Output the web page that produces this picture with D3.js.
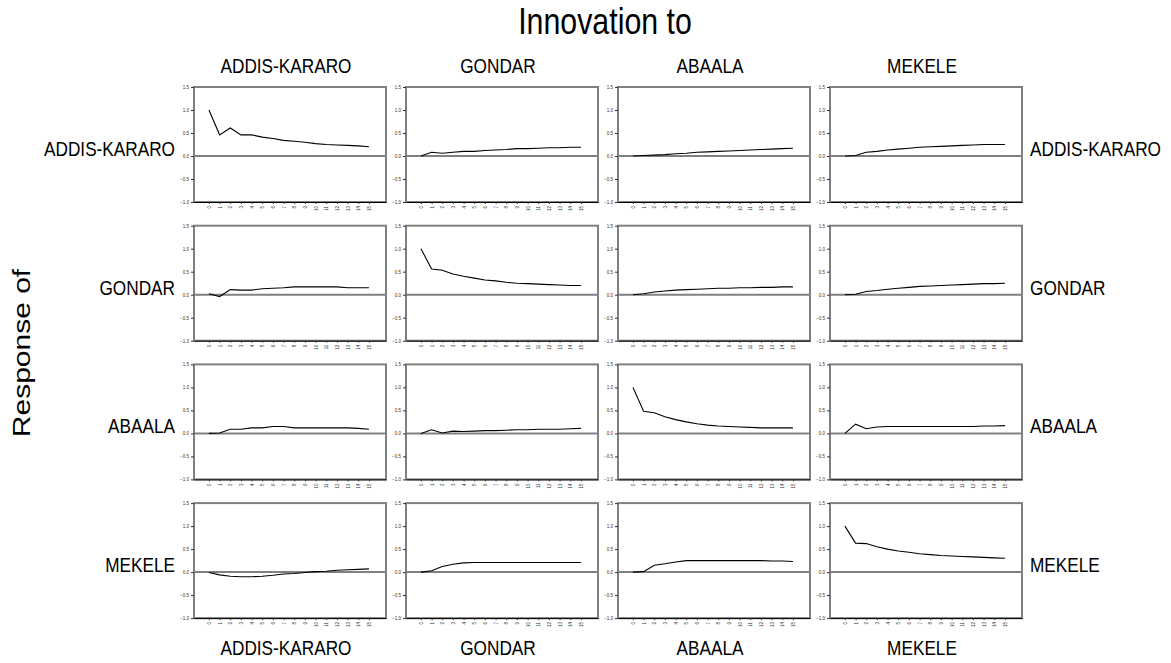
<!DOCTYPE html>
<html>
<head>
<meta charset="utf-8">
<script src="https://cdn.jsdelivr.net/npm/d3@7"></script>
<style>
  body { margin: 0; background: #fff; }
  text { font-family: "Liberation Sans", Arial, sans-serif; fill: #000; }
  .tiny text { font-size: 4.5px; fill: #333; }
</style>
</head>
<body>
<div id="chart"></div>
<script>
// variable names (response rows / innovation columns)
const regions = ['ADDIS-KARARO', 'GONDAR', 'ABAALA', 'MEKELE'];
const periods = [0, 1, 2, 3, 4, 5, 6, 7, 8, 9, 10, 11, 12, 13, 14, 15];
const yTicks = [-1.0, -0.5, 0.0, 0.5, 1.0, 1.5];

// impulse responses, one array per responding market, one series per innovation
const respAddis = [
  [1.0, 0.46, 0.61, 0.46, 0.46, 0.41, 0.38, 0.34, 0.32, 0.30, 0.27, 0.25, 0.24, 0.23, 0.22, 0.20],
  [0.0, 0.08, 0.06, 0.08, 0.10, 0.10, 0.12, 0.13, 0.14, 0.16, 0.16, 0.17, 0.18, 0.18, 0.19, 0.19],
  [0.0, 0.01, 0.02, 0.03, 0.05, 0.06, 0.08, 0.09, 0.10, 0.11, 0.12, 0.13, 0.14, 0.15, 0.16, 0.17],
  [0.0, 0.01, 0.08, 0.10, 0.13, 0.15, 0.17, 0.19, 0.20, 0.21, 0.22, 0.23, 0.24, 0.25, 0.25, 0.25]
];
const respGondar = [
  [0.02, -0.04, 0.11, 0.10, 0.10, 0.13, 0.14, 0.15, 0.17, 0.17, 0.17, 0.17, 0.17, 0.15, 0.15, 0.15],
  [1.0, 0.56, 0.53, 0.45, 0.40, 0.36, 0.32, 0.30, 0.27, 0.25, 0.24, 0.23, 0.22, 0.21, 0.20, 0.20],
  [0.0, 0.02, 0.06, 0.08, 0.10, 0.11, 0.12, 0.13, 0.14, 0.14, 0.15, 0.15, 0.16, 0.16, 0.17, 0.17],
  [0.0, 0.01, 0.07, 0.09, 0.12, 0.14, 0.16, 0.18, 0.19, 0.20, 0.21, 0.22, 0.23, 0.24, 0.24, 0.25]
];
const respAbaala = [
  [0.0, 0.01, 0.09, 0.09, 0.12, 0.12, 0.15, 0.15, 0.12, 0.12, 0.12, 0.12, 0.12, 0.12, 0.11, 0.09],
  [0.0, 0.08, 0.01, 0.05, 0.04, 0.05, 0.06, 0.06, 0.07, 0.08, 0.08, 0.09, 0.09, 0.09, 0.10, 0.11],
  [1.0, 0.48, 0.45, 0.36, 0.30, 0.25, 0.21, 0.18, 0.16, 0.15, 0.14, 0.13, 0.12, 0.12, 0.12, 0.12],
  [0.0, 0.20, 0.10, 0.14, 0.15, 0.15, 0.15, 0.15, 0.15, 0.15, 0.15, 0.15, 0.15, 0.16, 0.16, 0.17]
];
const respMekele = [
  [-0.01, -0.06, -0.09, -0.10, -0.10, -0.09, -0.07, -0.04, -0.03, -0.01, 0.01, 0.02, 0.04, 0.05, 0.06, 0.07],
  [0.0, 0.03, 0.12, 0.17, 0.20, 0.21, 0.21, 0.21, 0.21, 0.21, 0.21, 0.21, 0.21, 0.21, 0.21, 0.21],
  [0.0, 0.01, 0.15, 0.18, 0.22, 0.25, 0.25, 0.25, 0.25, 0.25, 0.25, 0.25, 0.25, 0.24, 0.24, 0.23],
  [1.0, 0.63, 0.62, 0.55, 0.50, 0.46, 0.43, 0.40, 0.38, 0.36, 0.35, 0.34, 0.33, 0.32, 0.31, 0.30]
];
const responses = [respAddis, respGondar, respAbaala, respMekele];

const width = 1171, height = 663;
const panelW = 192, panelH = 115;
const colLeft = i => 194 + i * 212;
const rowTop = i => 87 + i * 138.7;
const squeeze = 0.82; // text in the original is horizontally compressed

const svg = d3.select('#chart').append('svg')
    .attr('width', width)
    .attr('height', height);

function label(x, y, txt, size, anchor) {
    svg.append('text')
        .attr('transform', `translate(${x},${y}) scale(${squeeze},1)`)
        .attr('text-anchor', anchor)
        .style('font-size', size + 'px')
        .text(txt);
}

const x = d3.scaleLinear().domain([-1.4, 16.6]).range([0, panelW]);
const y = d3.scaleLinear().domain([-1, 1.5]).range([panelH, 0]);
const line = d3.line()
    .x((d, i) => x(periods[i]))
    .y(d => y(d));

responses.forEach((rows, r) => {
    rows.forEach((series, c) => {
        const g = svg.append('g')
            .attr('transform', `translate(${colLeft(c)},${rowTop(r)})`);

        // frame
        g.append('rect')
            .attr('width', panelW)
            .attr('height', panelH)
            .attr('fill', 'none')
            .attr('stroke', '#808080')
            .attr('stroke-width', 2);

        // zero line
        g.append('line')
            .attr('x1', 0).attr('x2', panelW)
            .attr('y1', y(0)).attr('y2', y(0))
            .attr('stroke', '#808080')
            .attr('stroke-width', 2);

        // y axis
        const ya = g.append('g').attr('class', 'tiny')
            .call(d3.axisLeft(y).tickValues(yTicks).tickSize(3).tickPadding(2)
                .tickFormat(d3.format('.1f')));
        ya.select('.domain').remove();
        ya.selectAll('line').attr('stroke', '#333');

        // x axis
        const xa = g.append('g').attr('class', 'tiny')
            .attr('transform', `translate(0,${panelH})`)
            .call(d3.axisBottom(x).tickValues(periods).tickSize(2).tickSizeOuter(0)
                .tickFormat(d3.format('d')));
        xa.select('.domain').attr('stroke', '#000');
        xa.selectAll('line').attr('stroke', '#333');
        xa.selectAll('text')
            .attr('transform', 'rotate(-90)')
            .attr('text-anchor', 'end')
            .attr('x', -4)
            .attr('y', 0)
            .attr('dy', '0.35em');

        // response
        g.append('path')
            .datum(series)
            .attr('fill', 'none')
            .attr('stroke', '#000')
            .attr('stroke-width', 1.1)
            .attr('d', line);
    });
});

// column headers top and bottom
regions.forEach((name, c) => {
    const cx = colLeft(c) + panelW / 2 - 4;
    label(cx, 73, name, 21, 'middle');
    label(cx, 655, name, 21, 'middle');
});

// row labels left and right, on the zero line
regions.forEach((name, r) => {
    const zy = rowTop(r) + y(0);
    label(175, zy, name, 21, 'end');
    label(1030, zy, name, 21, 'start');
});

label(605, 34, 'Innovation to', 37, 'middle');

svg.append('text')
    .attr('transform', `translate(30,353) scale(${squeeze},1) rotate(-90)`)
    .attr('text-anchor', 'middle')
    .style('font-size', '30px')
    .text('Response of');
</script>
</body>
</html>
